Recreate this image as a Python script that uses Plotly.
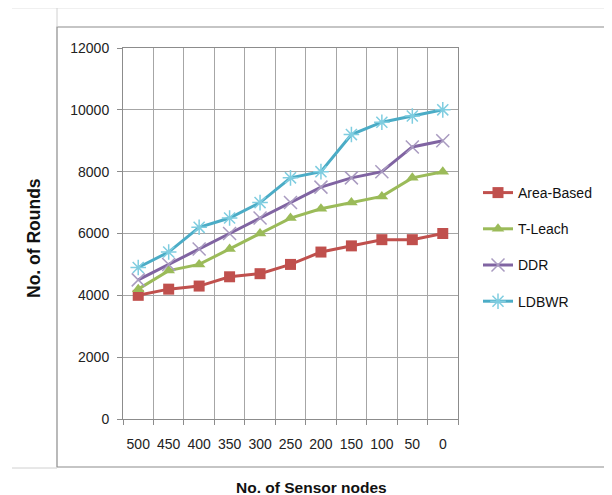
import plotly.graph_objects as go

nodes = ["500", "450", "400", "350", "300", "250", "200", "150", "100", "50", "0"]
area_based = [4000, 4200, 4300, 4600, 4700, 5000, 5400, 5600, 5800, 5800, 6000]
t_leach = [4200, 4800, 5000, 5500, 6000, 6500, 6800, 7000, 7200, 7800, 8000]
ddr = [4500, 5000, 5500, 6000, 6500, 7000, 7500, 7800, 8000, 8800, 9000]
ldbwr = [4900, 5400, 6200, 6500, 7000, 7800, 8000, 9200, 9600, 9800, 10000]
y_ticks = [0, 2000, 4000, 6000, 8000, 10000, 12000]
y_labels = [str(v) for v in y_ticks]

xpos = list(range(len(nodes)))
font_fam = "Liberation Sans, Arial, sans-serif"

fig = go.Figure()
series = [
    ("Area-Based", area_based, "#C0504D", dict(symbol="square", size=11, color="#C0504D")),
    ("T-Leach", t_leach, "#9BBB59", dict(symbol="triangle-up", size=11, color="#9BBB59")),
    ("DDR", ddr, "#8064A2", dict(symbol="x-thin-open", size=13, color="#A99BC0", line=dict(width=1.5, color="#A99BC0"))),
    ("LDBWR", ldbwr, "#4BACC6", dict(symbol="asterisk-open", size=13, color="#7FCDE0", line=dict(width=1.5, color="#7FCDE0"))),
]
for name, vals, col, mk in series:
    fig.add_trace(go.Scatter(x=xpos, y=vals, name=name, mode="lines+markers", legendgroup=name,
                             line=dict(color=col, width=3), marker=mk))

# page has an 8px body margin: work in screen pixels, shift by OFF
OFF = 8
W, H = 612 - OFF, 495 - OFF
SL, SR, ST, SB = 123, 458, 48, 419  # plot area in screen px
L, T = SL - OFF, ST - OFF
R, B = W - (SR - OFF), H - (SB - OFF)
pw = W - L - R
ph = H - T - B

def px_x(p):
    return (p - OFF - L) / pw

def px_y(p):
    return (H - B - (p - OFF)) / ph

fig.update_layout(
    width=W, height=H,
    margin=dict(l=L, r=R, t=T, b=B),
    paper_bgcolor="white", plot_bgcolor="white",
    font=dict(family=font_fam, size=14, color="#222"),
    showlegend=True,
    legend=dict(x=px_x(478), y=px_y(177), xanchor="left", yanchor="top",
                font=dict(size=14, family=font_fam, color="#111"),
                tracegroupgap=15, itemwidth=30, bgcolor="rgba(0,0,0,0)"),
    xaxis=dict(
        range=[-0.5, 10.5], tickmode="array", tickvals=xpos, ticktext=nodes,
        showgrid=False, ticks="", showline=True, linecolor="#8C8C8C", mirror=True,
        tickfont=dict(size=14), zeroline=False, ticklabelstandoff=12,
        minor=dict(tickvals=[i - 0.5 for i in range(len(nodes) + 1)], showgrid=True,
                   gridcolor="#A6A6A6", gridwidth=1, ticks="outside", ticklen=5,
                   tickcolor="#8C8C8C"),
    ),
    yaxis=dict(
        range=[0, 12000], tickmode="array", tickvals=y_ticks, ticktext=y_labels,
        showgrid=True, gridcolor="#A6A6A6", gridwidth=1,
        ticks="outside", ticklen=5, tickcolor="#8C8C8C", showline=True, linecolor="#8C8C8C",
        mirror=True, zeroline=False, tickfont=dict(size=14), ticklabelstandoff=5,
    ),
)

# axis titles
fig.add_annotation(text="<b>No. of Sensor nodes</b>", xref="paper", yref="paper",
                   x=px_x(311), y=px_y(487), xanchor="center", yanchor="middle", showarrow=False,
                   font=dict(size=15.5, family=font_fam, color="#111"))
fig.add_annotation(text="<b>No. of Rounds</b>", xref="paper", yref="paper", textangle=-90,
                   x=px_x(34), y=px_y(238), xanchor="center", yanchor="middle", showarrow=False,
                   font=dict(size=17.5, family=font_fam, color="#111"))

# chart frame
fig.add_shape(type="rect", xref="paper", yref="paper",
              x0=px_x(57), x1=px_x(609.5), y0=px_y(467), y1=px_y(27),
              line=dict(color="#8C8C8C", width=1.2), fillcolor="rgba(0,0,0,0)", layer="below")
# faint sheet lines
fig.add_shape(type="line", xref="paper", yref="paper", x0=px_x(12), x1=px_x(612),
              y0=px_y(8), y1=px_y(8), line=dict(color="#E2E2E2", width=1))
fig.add_shape(type="line", xref="paper", yref="paper", x0=px_x(57), x1=px_x(57),
              y0=px_y(8), y1=px_y(27), line=dict(color="#D0D0D0", width=1))
fig.add_shape(type="line", xref="paper", yref="paper", x0=px_x(12), x1=px_x(57),
              y0=px_y(468), y1=px_y(468), line=dict(color="#D0D0D0", width=1))

fig.write_html("out.html")
